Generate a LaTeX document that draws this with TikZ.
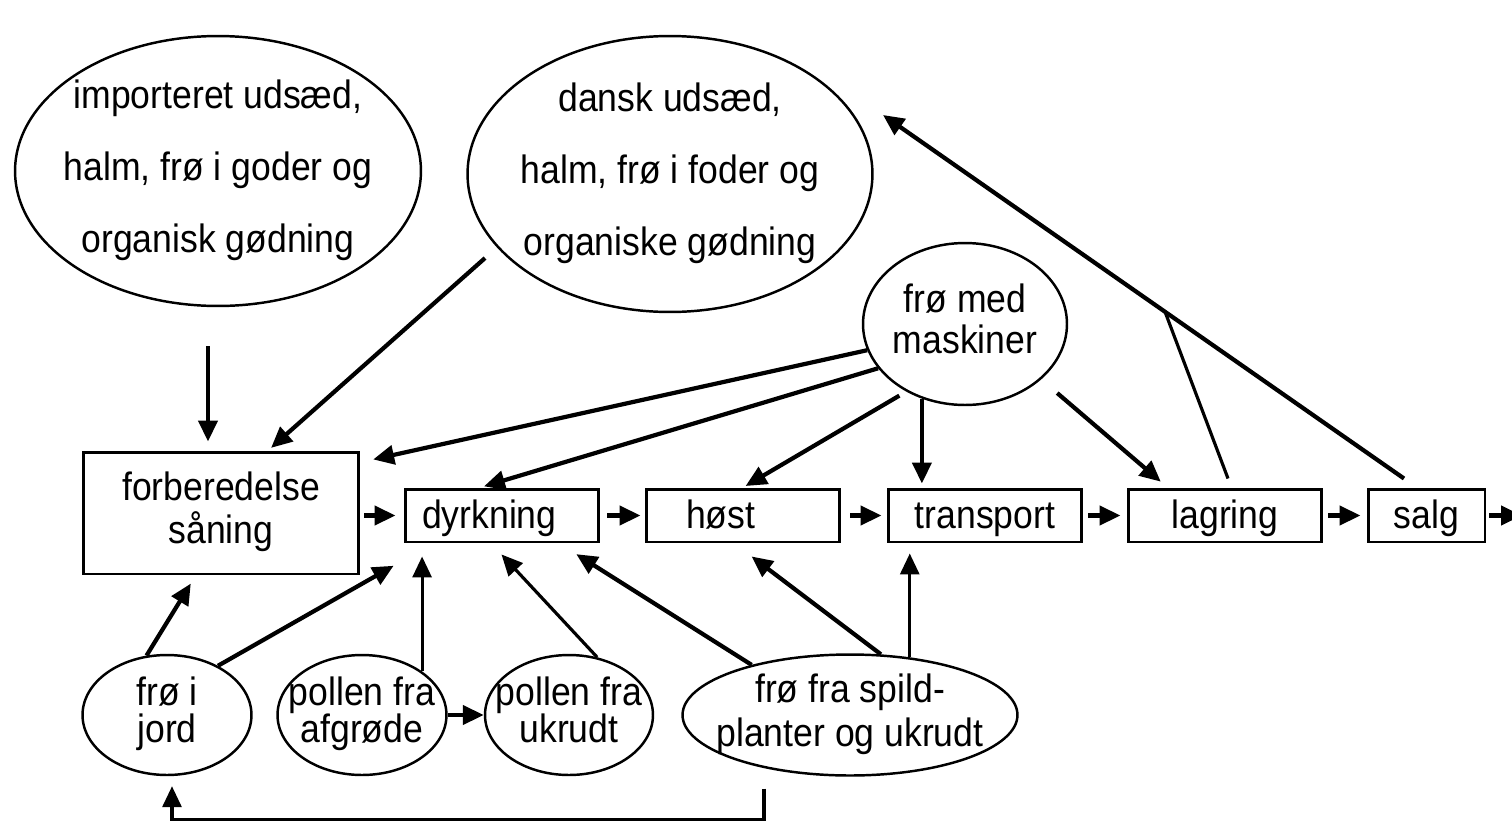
\documentclass[tikz,border=0pt]{standalone}
\usepackage{fontspec}
\setmainfont{Liberation Sans}[FakeStretch=0.9]
\usetikzlibrary{shapes.geometric,arrows.meta,calc}
\newcommand{\tekst}[1]{\makebox[0pt]{\begin{tabular}{@{}c@{}}#1\end{tabular}}}

\begin{document}
\begin{tikzpicture}[x=0.02cm,y=-0.02cm,
    boks/.style={rectangle,draw,line width=1.7pt,minimum height=1.06cm,minimum width=3.88cm,inner sep=0pt,text height=18pt,text depth=3pt,font=\fontsize{22.5}{26}\selectfont},
    oval/.style={ellipse,draw,line width=1.4pt,inner sep=0pt,inner ysep=-4pt,font=\fontsize{22.5}{26}\selectfont},
    pil/.style={-{Triangle[length=0.42cm,width=0.38cm]},line width=2.4pt},
    tynd/.style={line width=1.8pt}]
        \useasboundingbox (0,0) rectangle (1512,822);
        % kilder foroven
        \node [oval, minimum width=8.12cm, minimum height=5.4cm] (import) at (218,171) {\tekst{importeret udsæd,\\[15pt] halm, frø i goder og\\[15pt] organisk gødning}};
        \node [oval, minimum width=8.1cm, minimum height=5.52cm] (dansk) at (670,174) {\tekst{dansk udsæd,\\[15pt] halm, frø i foder og\\[15pt] organiske gødning}};
        \node [oval, minimum width=4.08cm, minimum height=3.24cm] (maskiner) at (965,324) {\tekst{frø med\\[-3pt] maskiner}};
        % kæden
        \node [boks, minimum width=5.52cm, minimum height=2.44cm, text height=, text depth=] (forb) at (221,513) {\tekst{forberedelse\\[-1.5pt] såning}};
        \node [boks, inner xsep=0.34cm, text width=3.2cm, align=left] (dyrk) at (502,515.5) {dyrkning};
        \node [boks, inner xsep=0.8cm, text width=2.28cm, align=left] (host) at (743,515.5) {høst};
        \node [boks] (transport) at (985,515.5) {transport};
        \node [boks] (lagring) at (1225,515.5) {lagring};
        \node [boks, minimum width=2.34cm] (salg) at (1426.5,515.5) {salg};
        \coordinate (ud) at (1522,515.5);
        % kilder forneden
        \node [oval, minimum width=3.38cm, minimum height=2.4cm] (jord) at (167,715) {\tekst{frø i\\[-5pt] jord}};
        \node [oval, minimum width=3.38cm, minimum height=2.4cm] (afgr) at (362,715) {\tekst{pollen fra\\[-5pt] afgrøde}};
        \node [oval, minimum width=3.36cm, minimum height=2.4cm] (ukr) at (569,715) {\tekst{pollen fra\\[-5pt] ukrudt}};
        \node [oval, minimum width=6.7cm, minimum height=2.42cm] (spild) at (850,715) {\tekst{frø fra spild-\\[-1pt] planter og ukrudt}};

        \draw [pil, shorten <=0.08cm, shorten >=0.16cm] (forb.east |- dyrk.west) -- (dyrk.west);
        \draw [pil, shorten <=0.14cm, shorten >=0.08cm] (dyrk.east) -- (host.west);
        \draw [pil, shorten <=0.18cm, shorten >=0.1cm] (host.east) -- (transport.west);
        \draw [pil, shorten <=0.1cm, shorten >=0.12cm] (transport.east) -- (lagring.west);
        \draw [pil, shorten <=0.1cm, shorten >=0.12cm] (lagring.east) -- (salg.west);
        \draw [pil, shorten <=0.06cm] (salg.east) -- (ud);

        \draw [pil] ([shift={(-10,39)}]import.south) -- ([shift={(-13,-9)}]forb.north);
        \draw [pil, shorten <=0.32cm, shorten >=0.08cm] (dansk.203) -- (forb.53);
        \draw [pil, shorten >=0.26cm] (maskiner.195) -- (forb.20);
        \draw [pil, shorten >=0.08cm] (maskiner.207) -- (dyrk.128);
        \draw [pil, shorten <=0.16cm, shorten >=0.06cm] (maskiner.229) -- (host.north);
        \draw [pil, shorten >=0.08cm] (maskiner.240) -- (maskiner.240 |- transport.north);
        \draw [pil, shorten <=0.42cm, shorten >=0.18cm] (maskiner.324) -- (lagring.154);

        \draw [pil, shorten >=0.19cm] (jord.109) -- (forb.248);
        \draw [pil, shorten >=0.9cm] (jord.44) -- (dyrk.202);
        \draw [pil, tynd, shorten >=0.26cm] (afgr.36) -- (afgr.36 |- dyrk.south);
        \draw [pil] (afgr.east) -- (ukr.west);
        \draw [pil, tynd, shorten >=0.3cm] (ukr.64) -- (dyrk.249);
        \draw [pil, shorten >=0.4cm] (spild.153) -- (dyrk.334);
        \draw [pil, shorten >=0.43cm] (spild.63) -- (host.253);
        \draw [pil, tynd, shorten >=0.2cm] (spild.44) -- (spild.44 |- transport.south);
        \draw [pil, tynd] ([shift={(-86,12)}]spild.south) -- ++(0,31) -| ([shift={(5,10)}]jord.south);

        % retur til dansk udsæd
        \coordinate (salgtop) at ([shift={(-22.5,-9)}]salg.north);
        \coordinate (retur) at (883,115);
        \coordinate (knude) at ($(salgtop)!0.4587!(retur)$);
        \draw [pil] (salgtop) -- (retur);
        \draw [tynd] ([shift={(3,-9)}]lagring.north) -- (knude);
    \end{tikzpicture}
\end{document}
